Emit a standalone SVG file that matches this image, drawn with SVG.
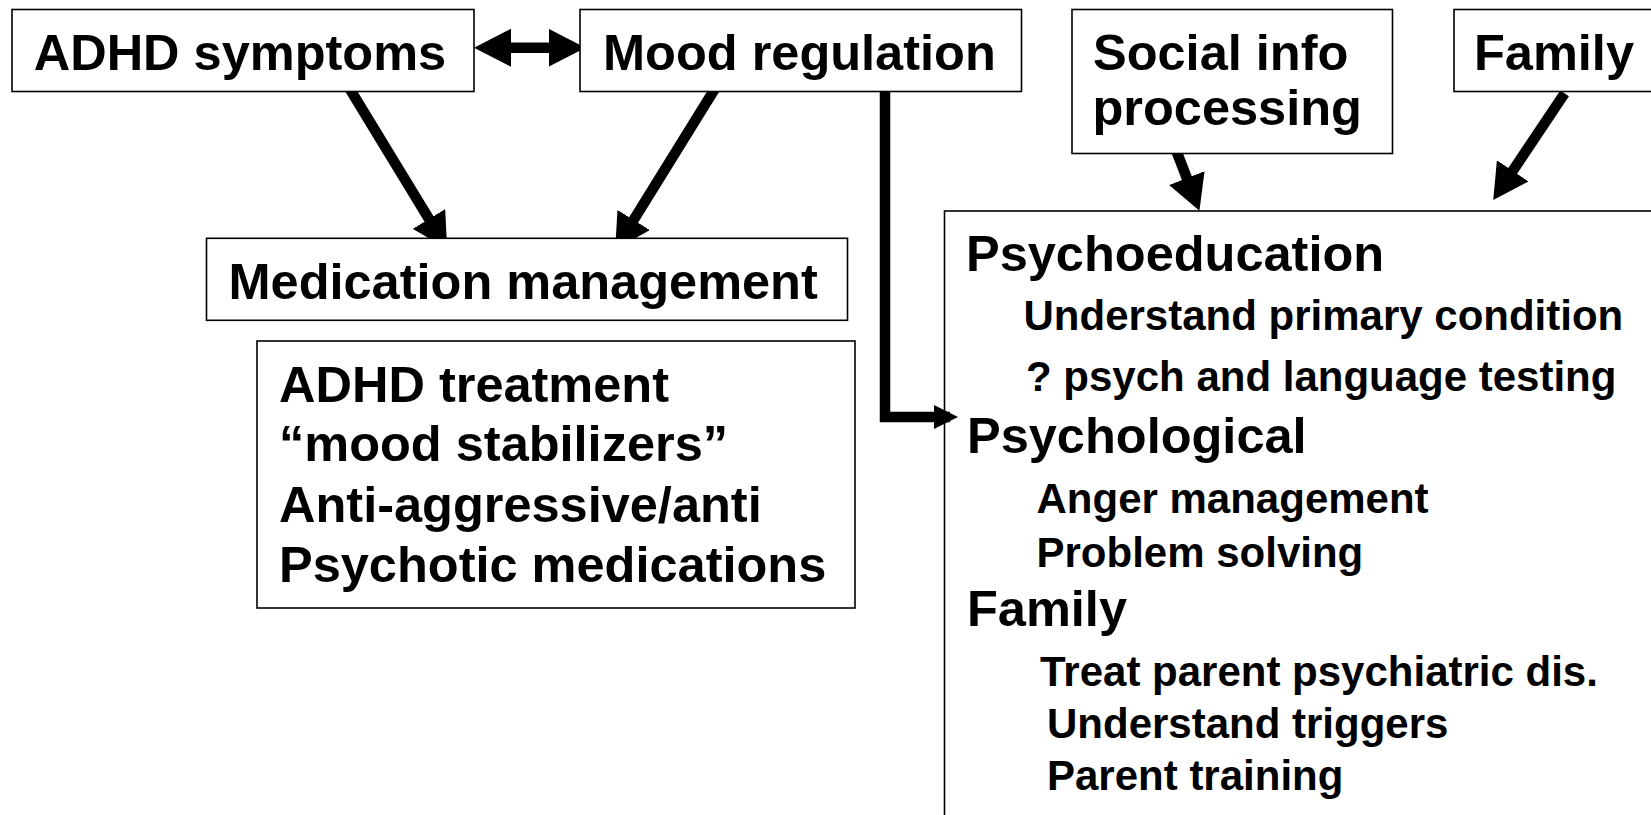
<svg xmlns="http://www.w3.org/2000/svg" width="1651" height="815" viewBox="0 0 1651 815">
<style>
.box{fill:#fff;stroke:#000;stroke-width:1.6}
.open{fill:none;stroke:#000;stroke-width:1.6}
text{font-family:"Liberation Sans",Arial,sans-serif;font-weight:bold;fill:#000}
.h{font-size:50.5px}
.s{font-size:42px}
.c{fill:none;stroke:#000;stroke-width:10.5}
</style>
<defs>
<marker id="ah" markerUnits="userSpaceOnUse" viewBox="0 0 35 38" markerWidth="35" markerHeight="38" refX="23" refY="19" orient="auto"><path d="M0,0 L35,19 L0,38 z" fill="#000"/></marker>
<marker id="dh" markerUnits="userSpaceOnUse" viewBox="0 0 37 38" markerWidth="37" markerHeight="38" refX="25" refY="19" orient="auto-start-reverse"><path d="M0,0 L37,19 L0,38 z" fill="#000"/></marker>
<marker id="sh" markerUnits="userSpaceOnUse" viewBox="0 0 24 24" markerWidth="24" markerHeight="24" refX="16" refY="12" orient="auto"><path d="M0,0 L24,12 L0,24 z" fill="#000"/></marker>
</defs>
<g id="node-treatments">
<rect class="open" x="944.5" y="211" width="720" height="620"/>
<text class="h" x="966" y="270.5">Psychoeducation</text>
<text class="s" x="1023.5" y="330">Understand primary condition</text>
<text class="s" x="1026" y="391">? psych and language testing</text>
<text class="h" x="967" y="453">Psychological</text>
<text class="s" x="1036.5" y="512.5">Anger management</text>
<text class="s" x="1036.5" y="567">Problem solving</text>
<text class="h" x="967" y="626">Family</text>
<text class="s" x="1040" y="686">Treat parent psychiatric dis.</text>
<text class="s" x="1047" y="738">Understand triggers</text>
<text class="s" x="1047" y="790">Parent training</text>
</g>
<g id="connectors">
<line class="c" x1="486" y1="47.7" x2="573.5" y2="47.7" stroke-width="9.5" marker-start="url(#dh)" marker-end="url(#dh)"/>
<line class="c" x1="348" y1="86" x2="440.9" y2="238.6" marker-end="url(#ah)"/>
<line class="c" x1="716" y1="87" x2="621.5" y2="239.5" marker-end="url(#ah)"/>
<path class="c" d="M885,86 V417 H950" marker-end="url(#sh)"/>
<line class="c" x1="1176.4" y1="151" x2="1195.1" y2="199.5" marker-end="url(#ah)"/>
<line class="c" x1="1564.6" y1="93.3" x2="1499.9" y2="190" marker-end="url(#ah)"/>
</g>
<g id="node-adhd">
<rect class="box" x="12" y="9.5" width="462" height="82"/>
<text class="h" x="33.7" y="70">ADHD symptoms</text>
</g>
<g id="node-mood">
<rect class="box" x="580" y="9.5" width="441.5" height="82"/>
<text class="h" x="603" y="70">Mood regulation</text>
</g>
<g id="node-social">
<rect class="box" x="1072" y="9.5" width="320.5" height="144"/>
<text class="h" x="1093" y="70">Social info</text>
<text class="h" x="1092.5" y="125">processing</text>
</g>
<g id="node-family">
<rect class="box" x="1454" y="9.5" width="220" height="82"/>
<text class="h" x="1474" y="70">Family</text>
</g>
<g id="node-medication">
<rect class="box" x="206.5" y="238.3" width="641" height="82"/>
<text class="h" x="228.5" y="298.5">Medication management</text>
</g>
<g id="node-drugs">
<rect class="box" x="257" y="341" width="598" height="267"/>
<text class="h" x="279" y="401.7">ADHD treatment</text>
<text class="h" x="279" y="460.5">“mood stabilizers”</text>
<text class="h" x="279" y="521.5">Anti-aggressive/anti</text>
<text class="h" x="279" y="581.5">Psychotic medications</text>
</g>
</svg>
